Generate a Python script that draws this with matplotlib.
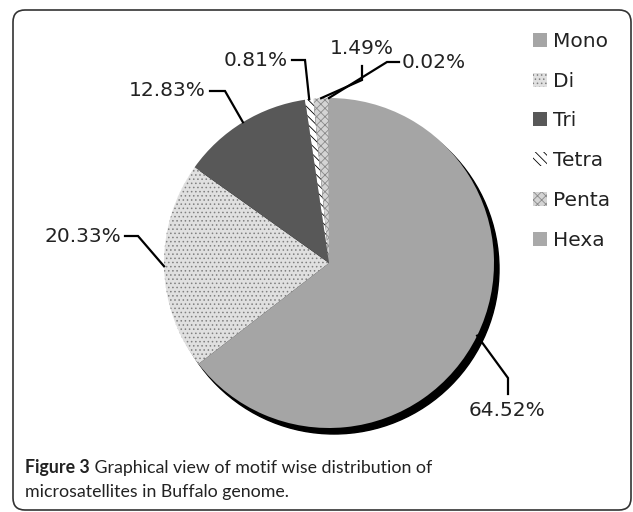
import numpy as np
import matplotlib.pyplot as plt
from matplotlib.patches import Circle, FancyBboxPatch

motifs = ["Mono", "Di", "Tri", "Tetra", "Penta", "Hexa"]
shares = [64.52, 20.33, 12.83, 0.81, 1.49, 0.02]
pct_labels = ["64.52%", "20.33%", "12.83%", "0.81%", "1.49%", "0.02%"]

faces = ["#a5a5a5", "#e0e0e0", "#585858", "#ffffff", "#d4d4d4", "#a9a9a9"]
edges = ["#a5a5a5", "#808080", "#585858", "#000000", "#8a8a8a", "#a9a9a9"]
hatches = [None, "....", None, "\\\\\\\\", "xxxx", None]

W, H = 633, 512
cx, cy, R = 329, 263, 165  # pie centre and radius in pixels


def px(x, y):
    # pixel position -> data coords (pie radius = 1)
    return (x - cx) / R, (cy - y) / R


plt.rcParams["hatch.linewidth"] = 0.6
fig = plt.figure(figsize=(W / 100, H / 100), dpi=100)
ax = fig.add_axes([0, 0, 1, 1])

wedges, _ = ax.pie(shares, startangle=90, counterclock=False, radius=1.0,
                   wedgeprops=dict(linewidth=0, zorder=2))
for w, fc, ec, h in zip(wedges, faces, edges, hatches):
    w.set_facecolor(fc)
    w.set_edgecolor(ec)
    w.set_linewidth(0)
    w.set_zorder(2)
    if h:
        w.set_hatch(h)

# drop shadow
ax.add_patch(Circle((5 / R, -6 / R), 1.0, color="black", zorder=1))

ax.set_xlim(-cx / R, (W - cx) / R)
ax.set_ylim((cy - H) / R, cy / R)
ax.set_aspect("equal")
ax.axis("off")

# label layout: text anchor, elbow, line end near text, alignment
layout = [
    ((507, 411), (508, 378), (508, 394), "center"),
    ((121, 236), (138, 236), (125, 236), "right"),
    ((206, 91), (225, 91), (210, 91), "right"),
    ((288, 60), (305, 60), (292, 60), "right"),
    ((362, 48), (362, 80), (362, 66), "center"),
    ((402, 62), (387, 62), (399, 62), "left"),
]

for w, lab, (tpos, elbow, lend, ha) in zip(wedges, pct_labels, layout):
    ang = np.deg2rad((w.theta1 + w.theta2) / 2)
    ex, ey = np.cos(ang), np.sin(ang)
    bx, by = px(*elbow)
    lx, ly = px(*lend)
    ax.plot([ex, bx, lx], [ey, by, ly], color="black", lw=1.6,
            solid_joinstyle="miter", zorder=3)
    tx, ty = px(*tpos)
    ax.text(tx, ty, lab, ha=ha, va="center", fontsize=14.5, color="#222222")

leg = ax.legend(wedges, motifs, loc="upper left",
                bbox_to_anchor=(533 / W, 1 - 32 / H), bbox_transform=fig.transFigure,
                frameon=False, fontsize=14.5, handlelength=0.7, handleheight=0.7,
                handletextpad=0.3, labelspacing=1.03, borderpad=0, borderaxespad=0)
for t in leg.get_texts():
    t.set_color("#222222")

# caption
cap_font = ["Liberation Sans Narrow", "Lato", "DejaVu Sans"]
t1 = fig.text(25 / W, 1 - 468 / H, "Figure 3", family=cap_font, fontsize=12.8,
              fontweight="bold", va="center", color="#222222")
ax.annotate(" Graphical view of motif wise distribution of", xy=(1, 0.5),
            xycoords=t1, va="center", ha="left", family=cap_font,
            fontsize=12.8, color="#222222")
fig.text(25 / W, 1 - 492 / H, "microsatellites in Buffalo genome.", family=cap_font,
         fontsize=12.8, va="center", color="#222222")

# rounded frame around the figure
frame = FancyBboxPatch((0.13, 0.02), 6.18, 5.0, boxstyle="round,pad=0,rounding_size=0.12",
                       transform=fig.dpi_scale_trans, fill=False, edgecolor="#333333",
                       linewidth=1.2)
fig.patches.append(frame)

fig.savefig("out.png", dpi=100)
